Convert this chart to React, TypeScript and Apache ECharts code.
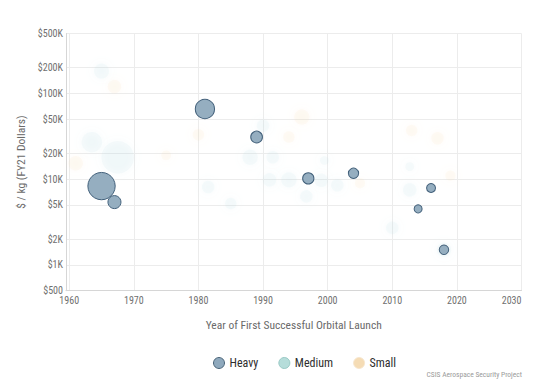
import React, { useEffect, useRef } from "react";
import * as echarts from "echarts";

const yTickValues = [500, 1000, 2000, 5000, 10000, 20000, 50000, 100000, 200000, 500000];
const xTickValues = [1960, 1970, 1980, 1990, 2000, 2010, 2020, 2030];

const heavyYears = [1965, 1967, 1981, 1989, 1997, 2004, 2014, 2016, 2018];
const heavyCost = [8300, 5400, 65800, 31000, 10200, 11700, 4500, 7900, 1500];
const heavyPayload = [141, 32, 70, 26, 24, 20, 12, 15, 17];

const mediumYears = [1965, 1967.5, 1963.5, 1981.5, 1985, 1988, 1990, 1991.5, 1991, 1994, 1996.7, 1999.5, 1999, 2001.5, 2012.7, 2012.7, 2010, 2018];
const mediumCost = [182000, 18000, 27000, 8100, 5200, 18000, 42000, 18000, 9800, 9800, 6300, 16500, 9700, 8500, 14000, 7500, 2700, 1500];
const mediumPayload = [43, 200, 80, 30, 25, 45, 30, 30, 35, 45, 30, 15, 35, 30, 15, 35, 30, 40];

const smallYears = [1967, 1961, 1975, 1980, 1996, 1994, 2005, 2013, 2017, 2019];
const smallCost = [120000, 15300, 19000, 33000, 53000, 31000, 9000, 37000, 30000, 11000];
const smallPayload = [35, 40, 18, 25, 45, 25, 20, 25, 30, 20];

const FONT = "'Roboto Condensed', 'Liberation Sans Narrow', 'Roboto', sans-serif";

function build(years: number[], cost: number[], payload: number[]) {
  return years.map((y, i) => [y, Math.log10(cost[i]), payload[i]]);
}

function fmtCost(v: number) {
  const n = Math.round(Math.pow(10, v));
  return n >= 1000 ? "$" + Math.round(n / 1000) + "K" : "$" + n;
}

export default function App() {
  const ref = useRef<HTMLDivElement>(null);
  useEffect(() => {
    if (!ref.current) return;
    const chart = echarts.init(ref.current, null, { renderer: "svg" });
    const size = (d: number[]) => Math.sqrt(d[2]) * 2.3;
    const heavyColor = "#95aec0";
    const mediumColor = "#b0d8de";
    const smallColor = "#f2d6a8";
    chart.setOption({
      animation: false,
      backgroundColor: "#ffffff",
      textStyle: { fontFamily: FONT },
      grid: { left: 66, right: 18.5, top: 33.5, bottom: 96.3, containLabel: false },
      xAxis: {
        type: "value",
        min: 1959.5,
        max: 2030,
        name: "Year of First Successful Orbital Launch",
        nameLocation: "middle",
        nameGap: 28,
        nameTextStyle: { fontSize: 11.5, color: "#6a6a6a", fontFamily: FONT },
        axisLine: { show: true, lineStyle: { color: "#d6d6d6" } },
        axisTick: { show: false, customValues: xTickValues },
        axisLabel: {
          customValues: xTickValues,
          formatter: (v: number) => String(Math.round(v)),
          fontSize: 10,
          color: "#707070",
          margin: 5,
          fontFamily: FONT,
          alignMaxLabel: "right",
        },
        splitLine: { show: true, lineStyle: { color: "#ececec" } },
      },
      yAxis: {
        type: "value",
        min: Math.log10(500),
        max: Math.log10(500000),
        name: "$ / kg (FY21 Dollars)",
        nameLocation: "middle",
        nameGap: 39,
        nameTextStyle: { fontSize: 11.5, color: "#6a6a6a", fontFamily: FONT },
        axisLine: { show: true, lineStyle: { color: "#d6d6d6" } },
        axisTick: { show: false, customValues: yTickValues.map((v) => Math.log10(v)) },
        axisLabel: {
          customValues: yTickValues.map((v) => Math.log10(v)),
          formatter: (v: number) => fmtCost(v),
          fontSize: 10,
          color: "#707070",
          margin: 3,
          fontFamily: FONT,
        },
        splitLine: { show: true, lineStyle: { color: "#ececec" } },
      },
      legend: {
        top: 352,
        left: 208,
        itemWidth: 11,
        itemHeight: 11,
        itemGap: 20,
        icon: "circle",
        textStyle: { fontSize: 12, color: "#2e2e2e", fontFamily: FONT },
        data: [
          { name: "Heavy", itemStyle: { color: "#8fa9bd", borderColor: "#4a6478", borderWidth: 1, opacity: 1 } },
          { name: "Medium", itemStyle: { color: "#b6ddda", borderColor: "#98c9c5", borderWidth: 1, opacity: 1 } },
          { name: "Small", itemStyle: { color: "#f5dcb5", borderColor: "#f7e7cf", borderWidth: 1, opacity: 1 } },
        ],
      },
      graphic: [
        {
          type: "text",
          right: 18,
          top: 370,
          style: {
            text: "CSIS Aerospace Security Project",
            fontSize: 7.5,
            fill: "#9a9a9a",
            fontFamily: FONT,
          },
        },
      ],
      series: [
        {
          name: "Medium",
          type: "scatter",
          data: build(mediumYears, mediumCost, mediumPayload),
          symbolSize: size,
          itemStyle: { color: mediumColor, opacity: 0.1, shadowBlur: 8, shadowColor: mediumColor },
          emphasis: { disabled: true },
        },
        {
          name: "Small",
          type: "scatter",
          data: build(smallYears, smallCost, smallPayload),
          symbolSize: size,
          itemStyle: { color: smallColor, opacity: 0.1, shadowBlur: 8, shadowColor: smallColor },
          emphasis: { disabled: true },
        },
        {
          name: "Heavy",
          type: "scatter",
          data: build(heavyYears, heavyCost, heavyPayload),
          symbolSize: size,
          itemStyle: { color: heavyColor, borderColor: "#42607a", borderWidth: 1, opacity: 1 },
          emphasis: { disabled: true },
        },
      ],
    });
    return () => chart.dispose();
  }, []);
  return (
    <div
      ref={ref}
      style={{ position: "fixed", left: 0, top: 0, width: 540, height: 387, background: "#fff" }}
    />
  );
}
